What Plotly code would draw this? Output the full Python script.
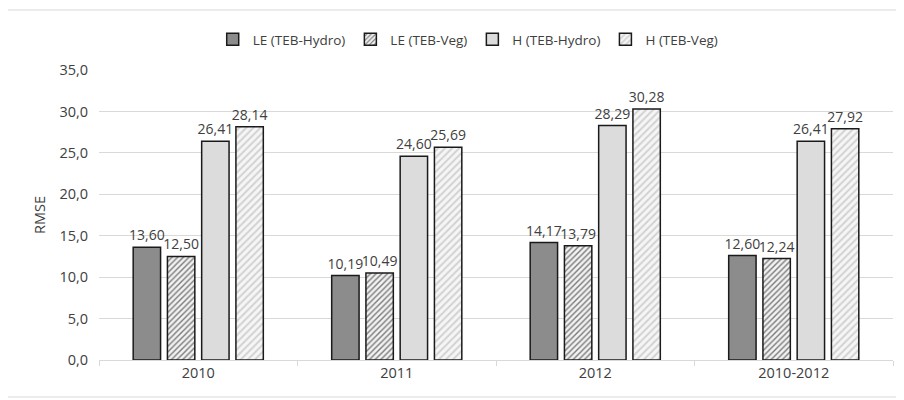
import plotly.graph_objects as go

categories = ["2010", "2011", "2012", "2010-2012"]
le_hydro = [13.60, 10.19, 14.17, 12.60]
le_veg = [12.50, 10.49, 13.79, 12.24]
h_hydro = [26.41, 24.60, 28.29, 26.41]
h_veg = [28.14, 25.69, 30.28, 27.92]

series = [
    ("LE (TEB-Hydro)", le_hydro, dict(color="#8c8c8c")),
    ("LE (TEB-Veg)", le_veg, dict(color="#ffffff", pattern=dict(shape="/", fgcolor="#7a7a7a", bgcolor="#f2f2f2", size=4, solidity=0.35, fillmode="replace"))),
    ("H (TEB-Hydro)", h_hydro, dict(color="#dcdcdc")),
    ("H (TEB-Veg)", h_veg, dict(color="#ffffff", pattern=dict(shape="/", fgcolor="#d2d2d2", bgcolor="#f6f6f6", size=5, solidity=0.4, fillmode="replace"))),
]

fig = go.Figure()
for name, vals, mk in series:
    mk = dict(mk)
    mk["line"] = dict(color="#1a1a1a", width=1.5)
    fig.add_trace(go.Bar(
        name=name, x=categories, y=vals, marker=mk,
        texttemplate="%{y:.2f}", textposition="outside", textangle=0,
        constraintext="none", cliponaxis=False,
        textfont=dict(family="Open Sans", size=14, color="#404040"),
    ))

fig.update_layout(
    width=896, height=392,
    margin=dict(l=91, r=11, t=62, b=40),
    paper_bgcolor="white", plot_bgcolor="white",
    separators=",.",
    barmode="group", bargap=0.31, bargroupgap=0.2,
    font=dict(family="Open Sans", size=14, color="#404040"),
    legend=dict(orientation="h", x=0.465, xanchor="center", y=1.105, yanchor="middle",
                font=dict(size=13.5, color="#404040"), itemwidth=30, traceorder="normal"),
    shapes=[dict(type="rect", xref="paper", yref="paper", x0=-0.1159, x1=1.03, y0=-0.1276, y1=1.2069,
                 line=dict(color="#d9d9d9", width=1), fillcolor="rgba(0,0,0,0)", layer="below")],
)
fig.update_yaxes(range=[0, 35], dtick=5, tickformat=".1f", showgrid=True, gridcolor="#d9d9d9",
                 gridwidth=1, zeroline=False, showline=False,
                 title=dict(text="RMSE", font=dict(size=14.5, color="#404040"), standoff=10),
                 tickfont=dict(size=14.5, color="#404040"), ticks="", ticklabelstandoff=10)
fig.update_xaxes(showline=True, linecolor="#d9d9d9", linewidth=1, ticks="outside", tickson="boundaries",
                 ticklen=5, tickcolor="#d9d9d9", tickfont=dict(size=14.5, color="#404040"))

fig.write_html("out.html")
